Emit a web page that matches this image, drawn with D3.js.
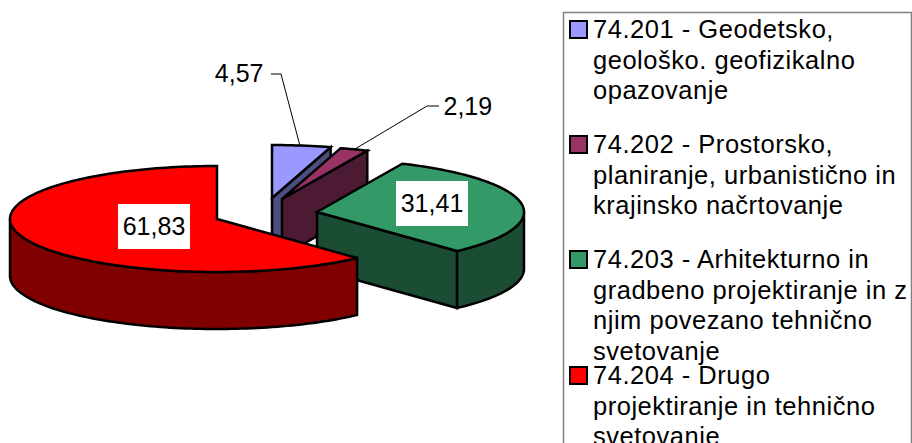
<!DOCTYPE html>
<html>
<head>
<meta charset="utf-8">
<script src="https://cdn.jsdelivr.net/npm/d3@7"></script>
<style>
    html, body { margin: 0; padding: 0; background: #fff; }
    svg { display: block; }
    text { font-family: "Liberation Sans", Arial, sans-serif; fill: #000; }
</style>
</head>
<body>
<svg id="chart" width="912" height="443"></svg>
<script>
const codes = ["74.201", "74.202", "74.203", "74.204"];
const shares = [4.57, 2.19, 31.41, 61.83];
const topColors = ["#9999ff", "#993366", "#339966", "#ff0000"];
const wallColors = ["#4d4d80", "#4d1a33", "#1a4d33", "#800000"];
const legendLines = [
    ["74.201 - Geodetsko,", "geološko. geofizikalno", "opazovanje"],
    ["74.202 - Prostorsko,", "planiranje, urbanistično in", "krajinsko načrtovanje"],
    ["74.203 - Arhitekturno in", "gradbeno projektiranje in z", "njim povezano tehnično", "svetovanje"],
    ["74.204 - Drugo", "projektiranje in tehnično", "svetovanje"]
];

const fontSize = 25;
const rx = 207, ry = 53, depth = 57;
// apex of each pulled out slice
const apex = [[272, 198], [282, 199], [317, 212], [217, 219]];
const legendTop = [38, 153, 268, 384];
const lineStep = 30.5;

const svg = d3.select("#chart");
const fmt = v => String(v.toFixed(2)).replace(".", ",");

const slices = d3.pie().sort(null).value(d => d)(shares);

// ellipse of the tilted pie: angle 0 is up, clockwise
const px = d3.scaleLinear().domain([-1, 1]).range([-rx, rx]);
const py = d3.scaleLinear().domain([-1, 1]).range([ry, -ry]);
function point(i, a, drop) {
    return [apex[i][0] + px(Math.sin(a)), apex[i][1] + py(Math.cos(a)) + (drop || 0)];
}
function arcPoints(i, a0, a1, drop) {
    const n = Math.max(2, Math.ceil((a1 - a0) * 40));
    return d3.range(n + 1).map(k => point(i, a0 + (a1 - a0) * k / n, drop));
}
const line = d3.line();

const pie = svg.append("g").attr("stroke", "#000").attr("stroke-width", 2.5).attr("stroke-linejoin", "miter");

slices.forEach((s, i) => {
    const g = pie.append("g");
    const c = apex[i];
    const bottom = [c[0], c[1] + depth];

    // cut side, only seen when the end edge looks at the viewer
    if (s.endAngle < Math.PI) {
        const e = point(i, s.endAngle);
        const wall = [c, e, [e[0], e[1] + depth], bottom];
        g.append("path").attr("d", line(wall) + "Z").attr("fill", wallColors[i]);
    }

    // outer rim between 90 and 270 degrees
    const a0 = Math.max(s.startAngle, Math.PI / 2);
    const a1 = Math.min(s.endAngle, Math.PI * 1.5);
    if (a1 > a0) {
        const rim = arcPoints(i, a0, a1, 0).concat(arcPoints(i, a0, a1, depth).reverse());
        g.append("path").attr("d", line(rim) + "Z").attr("fill", wallColors[i]);
    }

    const face = [c].concat(arcPoints(i, s.startAngle, s.endAngle, 0));
    g.append("path").attr("d", line(face) + "Z").attr("fill", topColors[i]);
});

// leader lines for the two small slices
const leaders = [
    [[271, 74], [281, 74], [300, 146]],
    [[439, 106], [427, 106], [355, 149]]
];
svg.selectAll(".leader").data(leaders).enter().append("path")
    .attr("class", "leader")
    .attr("d", d => line(d))
    .attr("fill", "none")
    .attr("stroke", "#000")
    .attr("stroke-width", 1);

// value labels
const labelBoxes = [null, null, [396, 181, 72, 45], [118, 204, 72, 45]];
const labelPos = [[263.5, 82, "end"], [443.5, 115, "start"], [432, 212, "middle"], [154, 235, "middle"]];
shares.forEach((v, i) => {
    if (labelBoxes[i]) {
        const b = labelBoxes[i];
        svg.append("rect").attr("x", b[0]).attr("y", b[1]).attr("width", b[2]).attr("height", b[3]).attr("fill", "#fff");
    }
    svg.append("text")
        .attr("x", labelPos[i][0]).attr("y", labelPos[i][1])
        .attr("text-anchor", labelPos[i][2])
        .attr("font-size", fontSize)
        .text(fmt(v));
});

// legend box runs off the window at the bottom
svg.append("rect")
    .attr("x", 563.5).attr("y", 12.5).attr("width", 348).attr("height", 450)
    .attr("fill", "none").attr("stroke", "#808080").attr("stroke-width", 1.5);

const legend = svg.selectAll(".legend").data(codes).enter().append("g").attr("class", "legend");
legend.append("rect")
    .attr("x", 570).attr("y", (d, i) => legendTop[i] - 17)
    .attr("width", 17).attr("height", 17)
    .attr("fill", (d, i) => topColors[i])
    .attr("stroke", "#000").attr("stroke-width", 2);
legend.selectAll("text").data((d, i) => legendLines[i].map((t, k) => ({ t, y: legendTop[i] + k * lineStep })))
    .enter().append("text")
    .attr("x", 593).attr("y", d => d.y)
    .attr("font-size", 25.5)
    .attr("letter-spacing", 0.52)
    .text(d => d.t);
</script>
</body>
</html>
